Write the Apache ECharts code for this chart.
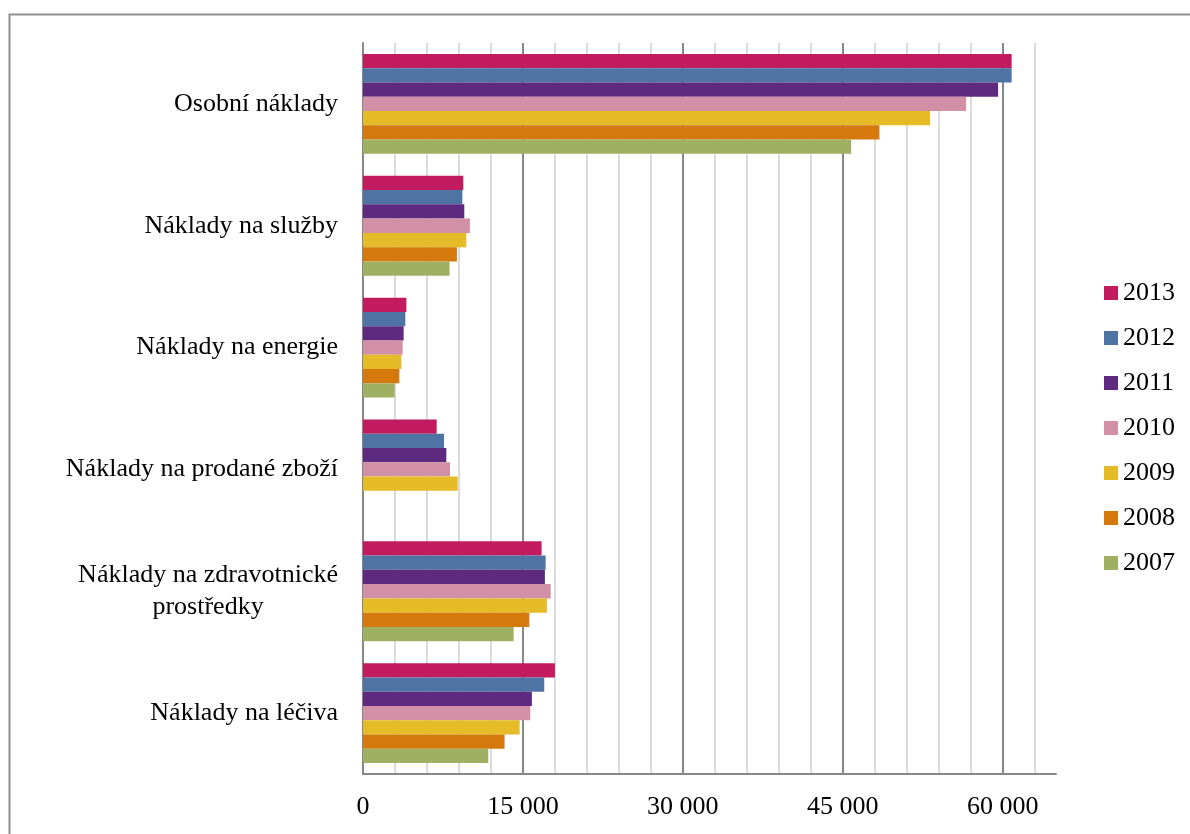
<!DOCTYPE html>
<html>
<head>
<meta charset="utf-8">
<script src="https://cdn.jsdelivr.net/npm/echarts@6/dist/echarts.min.js"></script>
<style>
html,body{margin:0;padding:0;background:#fff;}
#chart{width:1190px;height:834px;}
</style>
</head>
<body>
<div id="chart"></div>
<script>
// Categories (bottom to top on the value-axis chart)
const categories = [
  'Náklady na léčiva',
  'Náklady na zdravotnické prostředky',
  'Náklady na prodané zboží',
  'Náklady na energie',
  'Náklady na služby',
  'Osobní náklady'
];
const years = ['2013', '2012', '2011', '2010', '2009', '2008', '2007'];
const v2013 = [18000, 16750, 6910, 4070, 9410, 60840];
const v2012 = [17000, 17130, 7600, 3970, 9320, 60840];
const v2011 = [15840, 17060, 7815, 3815, 9500, 59570];
const v2010 = [15690, 17600, 8160, 3720, 10030, 56570];
const v2009 = [14690, 17250, 8880, 3600, 9690, 53190];
const v2008 = [13280, 15600, null, 3410, 8810, 48440];
const v2007 = [11750, 14130, null, 2970, 8125, 45790];
const xTicks = [0, 15000, 30000, 45000, 60000];

const values = [v2013, v2012, v2011, v2010, v2009, v2008, v2007];
const colors = ['#C21B5F', '#4E74A4', '#5D2A80', '#D190A6', '#E5BC28', '#D5790D', '#9FB062'];
const FONT = '"Liberation Serif", "Times New Roman", serif';

function fmt(v) {
  return String(v).replace(/\B(?=(\d{3})+(?!\d))/g, ' ');
}

const series = years.map((y, i) => ({
  name: y,
  type: 'bar',
  xAxisIndex: 0,
  yAxisIndex: 0,
  data: values[i],
  itemStyle: { color: colors[i] },
  barGap: '0%',
  barCategoryGap: '18%',
  z: 3
}));

const chart = echarts.init(document.getElementById('chart'), null, { renderer: 'canvas' });
chart.setOption({
  animation: false,
  backgroundColor: '#fff',
  graphic: [{
    type: 'rect',
    left: 7, top: 12,
    shape: { width: 1300, height: 1000 },
    style: { fill: 'none', stroke: '#8f8f8f', lineWidth: 2 },
    silent: true, z: -10
  }],
  grid: { left: 363, top: 43, right: 134, bottom: 60, containLabel: false },
  legend: {
    orient: 'vertical',
    left: 1104,
    top: 280,
    padding: 0,
    itemWidth: 14,
    itemHeight: 14,
    itemGap: 19,
    icon: 'rect',
    data: years,
    textStyle: { fontFamily: FONT, fontSize: 26, color: '#000' }
  },
  xAxis: [{
    type: 'value',
    min: 0,
    max: 65000,
    interval: 15000,
    position: 'bottom',
    z: 1,
    axisLine: { show: true, lineStyle: { color: '#878787', width: 2 } },
    axisTick: { show: false },
    axisLabel: {
      fontFamily: FONT, fontSize: 26, color: '#000', margin: 20,
      formatter: v => (xTicks.indexOf(v) >= 0 ? fmt(v) : '')
    },
    splitLine: { show: true, showMinLine: false, showMaxLine: false, lineStyle: { color: '#878787', width: 2 } }
  }, {
    type: 'value',
    min: 0,
    max: 65000,
    interval: 3000,
    position: 'top',
    z: 0,
    axisLine: { show: false },
    axisTick: { show: false },
    axisLabel: { show: false },
    splitLine: { show: true, showMinLine: false, showMaxLine: false, lineStyle: { color: '#dadada', width: 2 } }
  }],
  yAxis: [{
    type: 'category',
    data: categories,
    axisLine: { show: true, lineStyle: { color: '#878787', width: 2 } },
    axisTick: { show: false },
    splitLine: { show: false },
    axisLabel: {
      fontFamily: FONT, fontSize: 26, color: '#000', margin: 25, lineHeight: 32,
      formatter: function (v) {
        if (v === 'Náklady na zdravotnické prostředky') {
          return '{c|Náklady na zdravotnické}\n{c|prostředky}';
        }
        return v;
      },
      rich: { c: { align: 'center', fontFamily: FONT, fontSize: 26, lineHeight: 32, color: '#000' } }
    }
  }],
  series: series
});
</script>
</body>
</html>
